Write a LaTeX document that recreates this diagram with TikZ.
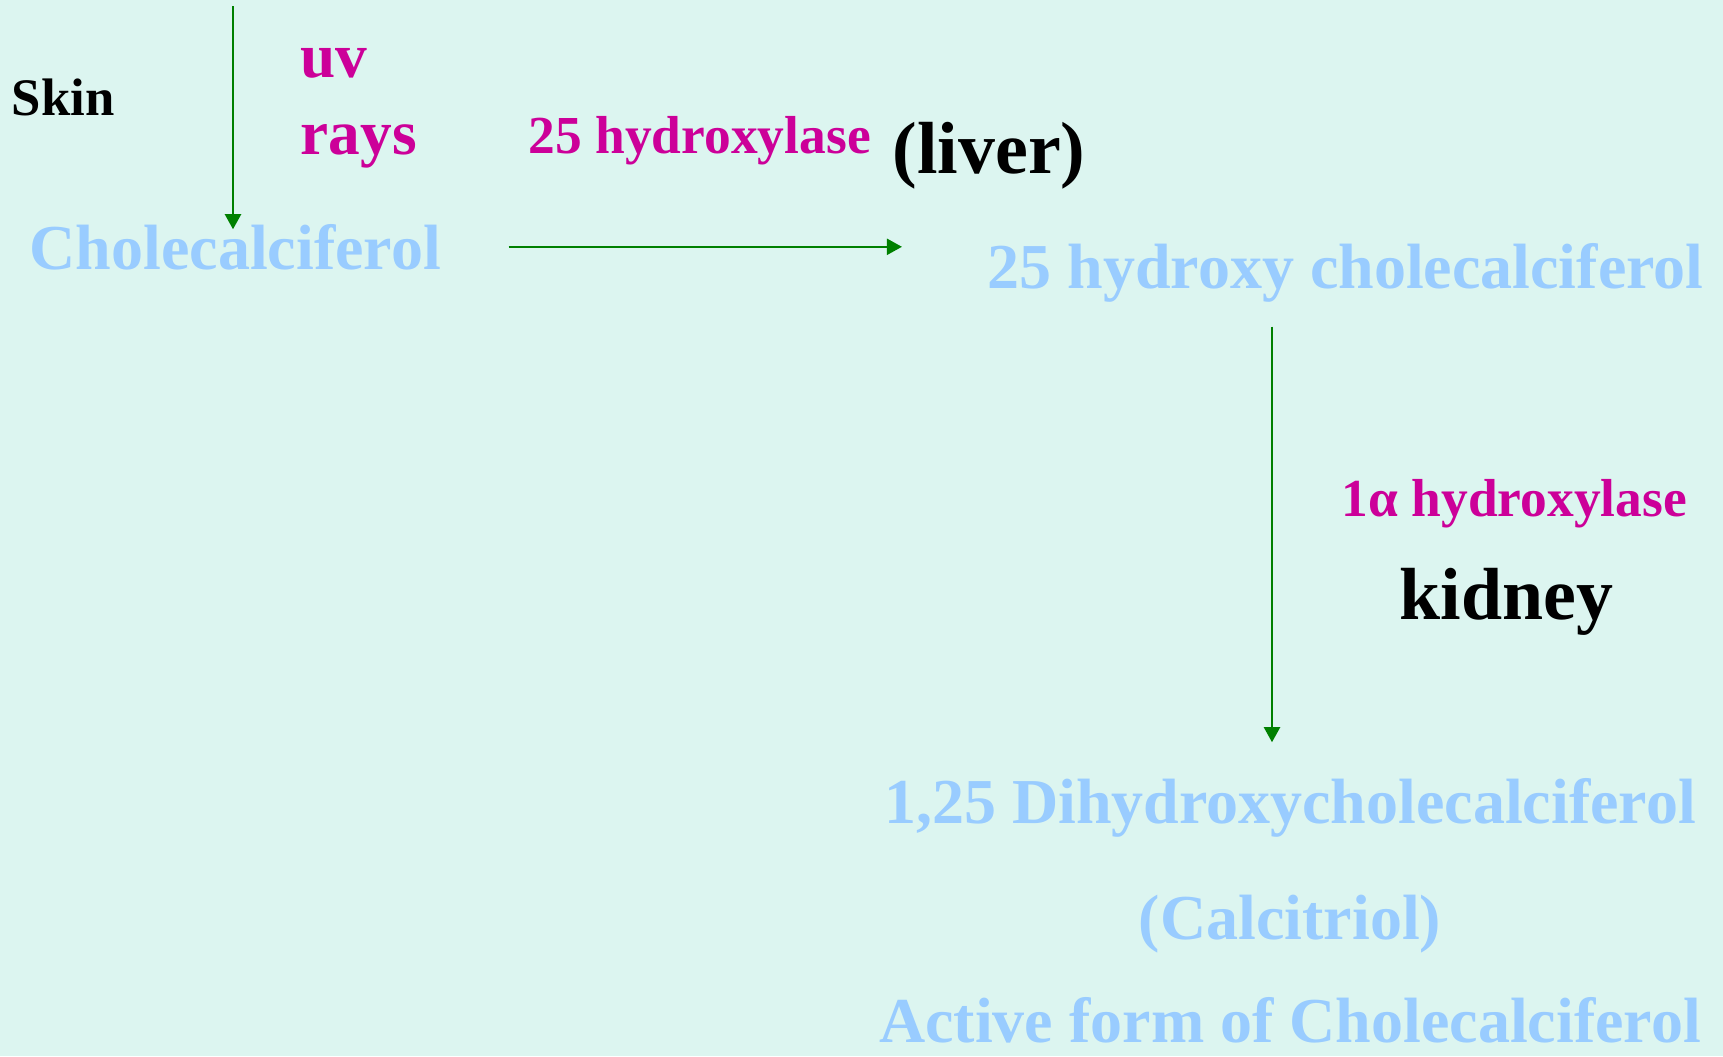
\documentclass[tikz,border=0pt]{standalone}
\usepackage{fontspec}
\setmainfont{Liberation Serif}
\usepackage{tikz}
\usetikzlibrary{arrows.meta, positioning}
\definecolor{slidebg}{HTML}{DCF5F0}
\definecolor{vitblue}{HTML}{99CCFF}
\definecolor{enzmagenta}{HTML}{CC0099}
\definecolor{flowgreen}{HTML}{008000}

\begin{document}
\begin{tikzpicture}[
    x=0.01cm, y=-0.01cm,
    every node/.style={inner sep=0pt, font=\bfseries},
    compound/.style={text=vitblue, font=\fontsize{18.2}{22}\selectfont\bfseries},
    enzyme/.style={text=enzmagenta, font=\fontsize{15.2}{18}\selectfont\bfseries},
    organ/.style={text=black, font=\fontsize{21}{25}\selectfont\bfseries},
    flow/.style={-{Triangle[length=0.15cm, width=0.16cm]}, line width=0.6pt, flowgreen}
]
    \fill[slidebg] (0,0) rectangle (1723,1056);
    \useasboundingbox (0,0) rectangle (1723,1056);

    % skin step
    \node[anchor=base west, font=\fontsize{15}{18}\selectfont\bfseries] (skin) at (11,115) {Skin};
    \node[enzyme, font=\fontsize{18}{22}\selectfont\bfseries, anchor=base west] (uv) at (300,77) {uv};
    \node[enzyme, font=\fontsize{18}{22}\selectfont\bfseries, below=0.77cm of uv.base west, anchor=base west] (rays) {rays};
    \node[compound, anchor=base west] (chole) at (29,269) {Cholecalciferol};

    % liver step
    \node[enzyme, anchor=base west] (hyd25) at (528,153) {25 hydroxylase};
    \node[organ, anchor=base west] (liver) at (892,173) {(liver)};
    \node[compound, anchor=base west] (hcc) at (987,288) {25 hydroxy cholecalciferol};

    % kidney step
    \node[enzyme, anchor=base west] (hyd1a) at (1341,516) {1α hydroxylase};
    \node[organ, anchor=base west] (kidney) at (1399,619) {kidney};
    \node[compound, anchor=base] (dhcc) at (1290,823) {1,25 Dihydroxycholecalciferol};
    \node[compound, below=1.16cm of dhcc.base, anchor=base] (calcitriol) {(Calcitriol)};
    \node[compound, below=1.03cm of calcitriol.base, anchor=base] (active) {Active form of Cholecalciferol};

    \coordinate (sun) at (233,6);
    \coordinate (kaxis) at (1272,0);

    \draw[flow, shorten >=-0.06cm] (sun) -- (sun |- chole.north);
    \draw[flow, shorten <=0.67cm, shorten >=0.85cm] (chole.east) -- (chole.east -| hcc.west);
    \draw[flow, shorten <=0.24cm, shorten >=0.35cm] (hcc.south -| kaxis) -- (dhcc.north -| kaxis);
\end{tikzpicture}
\end{document}
